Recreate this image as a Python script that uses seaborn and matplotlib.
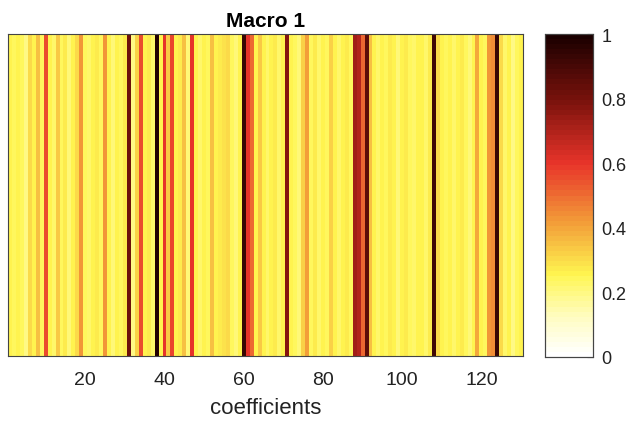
"""
Macro 1 — coefficient weights shown as a single-row heatmap
"""
import numpy as np
import pandas as pd
import matplotlib
matplotlib.use("Agg")
import matplotlib.pyplot as plt
from matplotlib.colors import LinearSegmentedColormap, ListedColormap
import seaborn as sns

# ── Data ─────────────────────────────────────────────────────────────────────
weights = [
    0.25, 0.24, 0.26, 0.24, 0.19, 0.30, 0.25, 0.35, 0.24, 0.56,
    0.25, 0.22, 0.33, 0.24, 0.27, 0.21, 0.25, 0.31, 0.43, 0.24,
    0.22, 0.25, 0.27, 0.24, 0.43, 0.25, 0.21, 0.26, 0.24, 0.28,
    0.82, 0.20, 0.32, 0.56, 0.25, 0.27, 0.23, 0.98, 0.25, 0.60,
    0.34, 0.57, 0.25, 0.27, 0.35, 0.21, 0.60, 0.25, 0.22, 0.26,
    0.24, 0.35, 0.25, 0.27, 0.29, 0.31, 0.24, 0.21, 0.26, 0.93,
    0.60, 0.50, 0.25, 0.33, 0.25, 0.22, 0.25, 0.27, 0.23, 0.25,
    0.78, 0.25, 0.24, 0.21, 0.32, 0.42, 0.24, 0.27, 0.22, 0.25,
    0.24, 0.32, 0.26, 0.22, 0.25, 0.28, 0.24, 0.72, 0.70, 0.50,
    0.85, 0.35, 0.25, 0.22, 0.26, 0.24, 0.27, 0.25, 0.21, 0.25,
    0.28, 0.24, 0.22, 0.26, 0.25, 0.23, 0.27, 0.92, 0.30, 0.25,
    0.24, 0.26, 0.22, 0.25, 0.27, 0.24, 0.21, 0.25, 0.40, 0.26,
    0.24, 0.43, 0.45, 0.93, 0.30, 0.22, 0.25, 0.20, 0.24, 0.26,
]
coef_ids = list(range(1, len(weights) + 1))
tick_coefs = [20, 40, 60, 80, 100, 120]
cbar_ticks = [0, 0.2, 0.4, 0.6, 0.8, 1]
cbar_labels = ["0", "0.2", "0.4", "0.6", "0.8", "1"]

df = pd.DataFrame([weights], columns=coef_ids, index=["Macro 1"])

# ── Colormap: softened flipped "hot", 64 steps like the MATLAB one ───────────
anchors = [
    (0.00, "#ffffff"),
    (0.12, "#fffcc0"),
    (0.25, "#fff650"),
    (0.42, "#f29a38"),
    (0.60, "#e8342a"),
    (0.80, "#7a120c"),
    (1.00, "#1a0000"),
]
smooth = LinearSegmentedColormap.from_list("soft_hot_r", anchors)
cmap = ListedColormap(smooth(np.linspace(0, 1, 64)))

# ── Plot ─────────────────────────────────────────────────────────────────────
sns.set_style("white")
plt.rcParams["font.family"] = ["Liberation Sans", "DejaVu Sans"]
plt.rcParams["text.color"] = "#111111"
plt.rcParams["xtick.color"] = "#222222"
plt.rcParams["ytick.color"] = "#222222"
plt.rcParams["axes.labelcolor"] = "#222222"

fig = plt.figure(figsize=(6.33, 4.27), dpi=100)
ax = fig.add_axes([8 / 633, 1 - 357 / 427, 515 / 633, 322 / 427])
cax = fig.add_axes([545 / 633, 1 - 358 / 427, 48 / 633, 323 / 427])

sns.heatmap(df, ax=ax, cbar_ax=cax, cmap=cmap, vmin=0, vmax=1,
            xticklabels=False, yticklabels=False)

pos = [coef_ids.index(c) + 0.5 for c in tick_coefs]
ax.set_xticks(pos)
ax.set_xticklabels([str(c) for c in tick_coefs], fontsize=14, rotation=0)
ax.set_yticks([])
ax.tick_params(axis="x", direction="in", length=4, width=0.8, color="#333333",
               top=True, bottom=True, pad=11)
ax.set_xlabel("coefficients", fontsize=16, labelpad=6)
ax.set_ylabel("")
ax.set_title("Macro 1", fontsize=15, fontweight="bold", pad=6, color="black")
for sp in ax.spines.values():
    sp.set_visible(True)
    sp.set_color("#444444")
    sp.set_linewidth(0.8)

cax.set_yticks(cbar_ticks)
cax.set_yticklabels(cbar_labels, fontsize=13)
cax.tick_params(axis="y", direction="in", length=4, width=0.8, color="#333333",
                pad=6)
for sp in cax.spines.values():
    sp.set_visible(True)
    sp.set_color("#444444")
    sp.set_linewidth(0.8)

plt.savefig("out.png", dpi=100)
plt.close()
